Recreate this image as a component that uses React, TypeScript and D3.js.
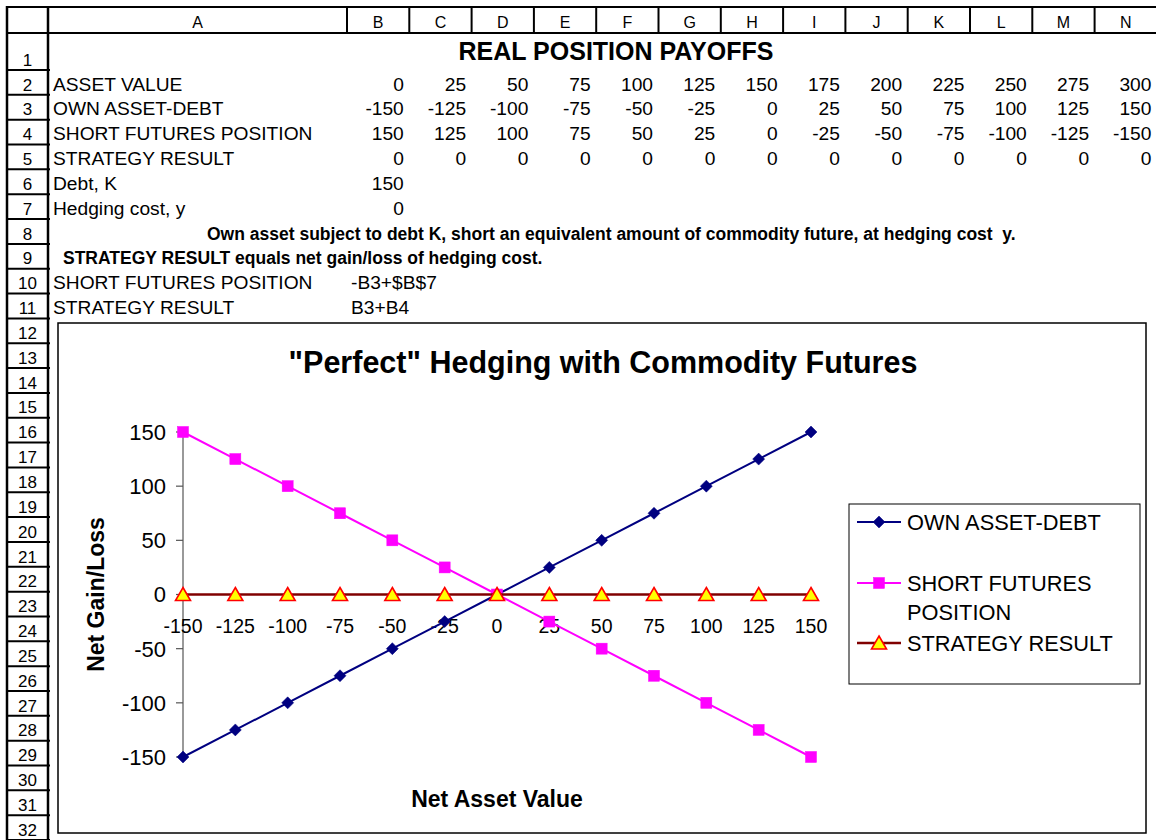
import React from "react";
import * as d3 from "d3";

const columnLetters = ["A", "B", "C", "D", "E", "F", "G", "H", "I", "J", "K", "L", "M", "N"];
const assetValue = [0, 25, 50, 75, 100, 125, 150, 175, 200, 225, 250, 275, 300];
const ownAssetDebt = [-150, -125, -100, -75, -50, -25, 0, 25, 50, 75, 100, 125, 150];
const shortFutures = [150, 125, 100, 75, 50, 25, 0, -25, -50, -75, -100, -125, -150];
const strategyResult = [0, 0, 0, 0, 0, 0, 0, 0, 0, 0, 0, 0, 0];
const debtK = 150;
const hedgingCost = 0;
const rowLabels = ["ASSET VALUE", "OWN ASSET-DEBT", "SHORT FUTURES POSITION", "STRATEGY RESULT"];
const sheetTitle = "REAL POSITION PAYOFFS";
const note1 = "Own asset subject to debt K, short an equivalent amount of commodity future, at hedging cost  y.";
const note2 = "STRATEGY RESULT equals net gain/loss of hedging cost.";
const formulas = [
  ["SHORT FUTURES POSITION", "-B3+$B$7"],
  ["STRATEGY RESULT", "B3+B4"],
];
const chartTitle = "\"Perfect\" Hedging with Commodity Futures";
const yTicks = [-150, -100, -50, 0, 50, 100, 150];
const xTitle = "Net Asset Value";
const yTitle = "Net Gain/Loss";
const seriesNames = ["OWN ASSET-DEBT", "SHORT FUTURES POSITION", "STRATEGY RESULT"];

const FONT = "'Liberation Sans', Arial, Helvetica, sans-serif";
const NAVY = "#000080";
const MAGENTA = "#FF00FF";
const DARKRED = "#800000";

const RH = 24.84;
const rowTop = (n: number) => (n === 1 ? 33 : 70 + (n - 2) * RH);
const rowBottom = (n: number) => (n === 1 ? 70 : rowTop(n) + RH);
const baseline = (n: number) => rowBottom(n) - 4.3;
const colLeft = (i: number) => (i === 0 ? 48 : 347 + 62.3 * (i - 1));
const colRight = (i: number) => colLeft(i + 1);

function Diamond({ x, y, s = 6 }: { x: number; y: number; s?: number }) {
  return <path d={`M${x},${y - s}L${x + s},${y}L${x},${y + s}L${x - s},${y}Z`} fill={NAVY} stroke={NAVY} strokeWidth={0.5} />;
}
function Square({ x, y, s = 5.5 }: { x: number; y: number; s?: number }) {
  return <rect x={x - s} y={y - s} width={2 * s} height={2 * s} fill={MAGENTA} stroke={MAGENTA} strokeWidth={0.5} />;
}
function Triangle({ x, y }: { x: number; y: number }) {
  return <path d={`M${x},${y - 7}L${x + 7.5},${y + 6}L${x - 7.5},${y + 6}Z`} fill="#FFFF00" stroke="#FF0000" strokeWidth={1.6} strokeLinejoin="miter" />;
}

export default function App() {
  const x = d3.scalePoint<string>().domain(ownAssetDebt.map(String)).range([183, 811]);
  const y = d3.scaleLinear().domain([-150, 150]).range([757, 432]);
  const px = (i: number) => x(String(ownAssetDebt[i])) as number;
  const line = d3
    .line<number>()
    .x((_, i) => px(i))
    .y((d) => y(d));

  const dataRows = [assetValue, ownAssetDebt, shortFutures, strategyResult];

  return (
    <div style={{ position: "absolute", left: 0, top: 0 }}>
      <svg width={1156} height={840} style={{ display: "block", fontFamily: FONT }}>
        <rect x={0} y={0} width={1156} height={840} fill="#fff" />
        {/* header grid */}
        <line x1={6} x2={1156} y1={7} y2={7} stroke="#000" strokeWidth={2} />
        <line x1={6} x2={1156} y1={33} y2={33} stroke="#000" strokeWidth={2} />
        <line x1={7} x2={7} y1={6} y2={840} stroke="#000" strokeWidth={2.5} />
        <line x1={48} x2={48} y1={6} y2={840} stroke="#000" strokeWidth={2.5} />
        {columnLetters.map((c, i) => (
          <g key={c}>
            {i > 0 && <line x1={colLeft(i)} x2={colLeft(i)} y1={7} y2={34} stroke="#000" strokeWidth={2} />}
            <text x={(colLeft(i) + Math.min(colRight(i), 1160)) / 2} y={28} fontSize={16} textAnchor="middle">
              {c}
            </text>
          </g>
        ))}
        {d3.range(1, 33).map((n) => (
          <g key={n}>
            <line x1={7} x2={50} y1={rowBottom(n)} y2={rowBottom(n)} stroke="#000" strokeWidth={2} />
            <text x={27.5} y={baseline(n)} fontSize={17} textAnchor="middle">
              {n}
            </text>
          </g>
        ))}

        {/* sheet content */}
        <text x={616} y={60} fontSize={25} fontWeight="bold" textAnchor="middle">
          {sheetTitle}
        </text>
        {rowLabels.map((lab, r) => (
          <g key={lab}>
            <text x={53} y={baseline(r + 2)} fontSize={19.2}>
              {lab}
            </text>
            {dataRows[r].map((v, i) => (
              <text key={i} x={colRight(i + 1) - 5.5} y={baseline(r + 2)} fontSize={19.2} textAnchor="end">
                {v}
              </text>
            ))}
          </g>
        ))}
        <text x={53} y={baseline(6)} fontSize={19.2}>Debt, K</text>
        <text x={colRight(1) - 5.5} y={baseline(6)} fontSize={19.2} textAnchor="end">{debtK}</text>
        <text x={53} y={baseline(7)} fontSize={19.2}>Hedging cost, y</text>
        <text x={colRight(1) - 5.5} y={baseline(7)} fontSize={19.2} textAnchor="end">{hedgingCost}</text>
        <text x={207} y={baseline(8)} fontSize={17.5} fontWeight="bold" style={{ whiteSpace: "pre" }}>
          {note1}
        </text>
        <text x={63} y={baseline(9)} fontSize={17.5} fontWeight="bold">
          {note2}
        </text>
        {formulas.map((f, k) => (
          <g key={k}>
            <text x={53} y={baseline(10 + k)} fontSize={19.2}>{f[0]}</text>
            <text x={351} y={baseline(10 + k)} fontSize={19.2}>{f[1]}</text>
          </g>
        ))}

        {/* chart */}
        <rect x={58} y={323} width={1088} height={510} fill="#fff" stroke="#000" strokeWidth={1.5} />
        <text x={603} y={373} fontSize={30.5} fontWeight="bold" textAnchor="middle">
          {chartTitle}
        </text>
        {/* y axis */}
        <line x1={183} x2={183} y1={y(150)} y2={y(-150)} stroke="#555" strokeWidth={1.2} />
        {yTicks.map((t) => (
          <g key={t}>
            <line x1={176} x2={183} y1={y(t)} y2={y(t)} stroke="#555" strokeWidth={1.2} />
            <text x={166} y={y(t)} dy="0.36em" fontSize={22} textAnchor="end">
              {t}
            </text>
          </g>
        ))}
        {/* x axis */}
        <line x1={183} x2={811} y1={y(0)} y2={y(0)} stroke="#555" strokeWidth={1.2} />
        {ownAssetDebt.map((v, i) => (
          <text key={i} x={px(i)} y={y(0) + 38} fontSize={19.5} textAnchor="middle">
            {v}
          </text>
        ))}
        <text x={497} y={807} fontSize={23} fontWeight="bold" textAnchor="middle">
          {xTitle}
        </text>
        <text transform={`translate(104,594.5) rotate(-90)`} fontSize={23} fontWeight="bold" textAnchor="middle">
          {yTitle}
        </text>

        {/* series */}
        <path d={line(ownAssetDebt) || ""} fill="none" stroke={NAVY} strokeWidth={2} />
        {ownAssetDebt.map((v, i) => (
          <Diamond key={i} x={px(i)} y={y(v)} />
        ))}
        <path d={line(shortFutures) || ""} fill="none" stroke={MAGENTA} strokeWidth={2} />
        {shortFutures.map((v, i) => (
          <Square key={i} x={px(i)} y={y(v)} />
        ))}
        <path d={line(strategyResult) || ""} fill="none" stroke={DARKRED} strokeWidth={2.5} />
        {strategyResult.map((v, i) => (
          <Triangle key={i} x={px(i)} y={y(v)} />
        ))}

        {/* legend */}
        <rect x={849} y={504} width={291} height={180} fill="#fff" stroke="#000" strokeWidth={1} />
        <line x1={857} x2={901} y1={522} y2={522} stroke={NAVY} strokeWidth={2} />
        <Diamond x={879} y={522} />
        <text x={907} y={522} dy="0.36em" fontSize={21.8}>{seriesNames[0]}</text>
        <line x1={857} x2={901} y1={583} y2={583} stroke={MAGENTA} strokeWidth={2} />
        <Square x={879} y={583} />
        <text x={907} y={583} dy="0.36em" fontSize={21.8}>SHORT FUTURES</text>
        <text x={907} y={612} dy="0.36em" fontSize={21.8}>POSITION</text>
        <line x1={857} x2={901} y1={643} y2={643} stroke={DARKRED} strokeWidth={2.5} />
        <Triangle x={879} y={643} />
        <text x={907} y={643} dy="0.36em" fontSize={21.8}>{seriesNames[2]}</text>
      </svg>
    </div>
  );
}
